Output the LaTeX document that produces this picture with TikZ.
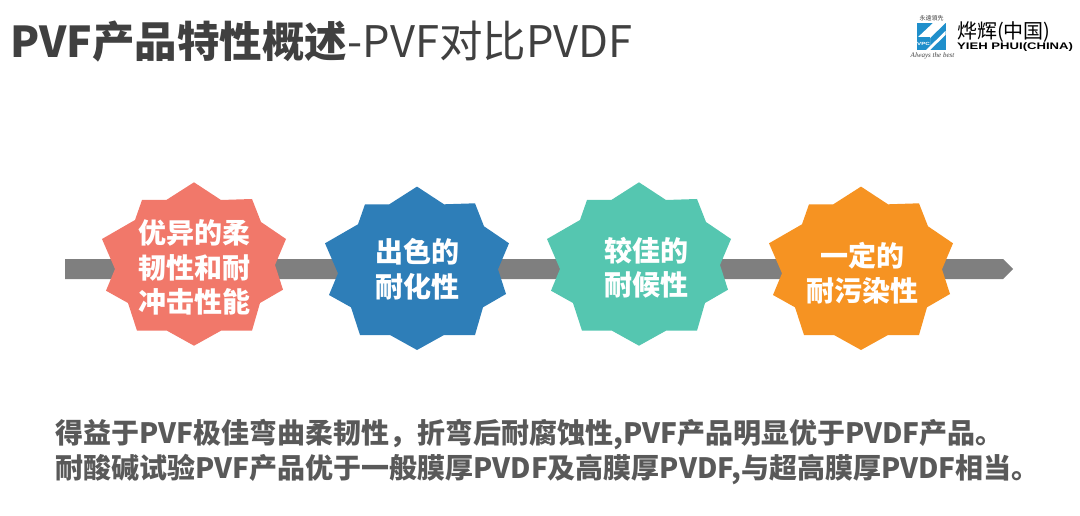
\documentclass[tikz,border=0pt]{standalone}
\usepackage{fontspec}
\setmainfont{Open Sans}
\newfontfamily\cjk{Noto Sans CJK SC}
\newfontfamily\logowide[FakeStretch=1.38]{Liberation Sans}
\newfontfamily\logoserif{Liberation Serif}
\usetikzlibrary{positioning}
\definecolor{barGray}{HTML}{7F7F7F}
\definecolor{titleGray}{HTML}{404040}
\definecolor{noteGray}{HTML}{595959}
\definecolor{burstRed}{HTML}{F1786A}
\definecolor{burstBlue}{HTML}{2E7EB8}
\definecolor{burstGreen}{HTML}{55C6B0}
\definecolor{burstOrange}{HTML}{F69322}
\definecolor{logoBlue}{HTML}{1F8FCB}
\tikzset{
  x=1pt,y=-1pt,
  burstText/.style={text=white,font=\cjk\bfseries\fontsize{28}{34.5}\selectfont,align=center,inner sep=0pt},
  noteText/.style={text=noteGray,font=\cjk\bfseries\fontsize{28}{34.5}\selectfont,align=left,anchor=west,inner sep=0pt}
}
% one burst, coordinates around its centre
\newcommand{\burst}[3]{%
  \fill[#3,shift={(#1,#2)}] (0,-81.7) -- (27,-64) -- (58,-65) -- (67,-42) -- (92,-25) -- (81,1) -- (89,25.7)
    -- (66,39) -- (58,66.7) -- (27,66.7) -- (0,81.7) -- (-27,66.7) -- (-57,66.7) -- (-66,39) -- (-88,26.7) -- (-79,5)
    -- (-92,-25) -- (-59,-44) -- (-52,-64) -- (-27.7,-64) -- cycle;}
\begin{document}
\begin{tikzpicture}
  \useasboundingbox (0,0) rectangle (1080,516);
  % Title
  \node[anchor=west,inner sep=0pt,text=titleGray] (title) at (10,42) {\cjk\fontsize{42.5}{48}\selectfont\textbf{PVF产品特性概述}\fontsize{43.5}{48}\selectfont-PVF对比PVDF};

  % Logo
  \fill[logoBlue] (917,23) rectangle (945.5,50);
  \fill[white] (917,38) -- (933,23) -- (945.5,23) -- (930,38) -- (930,50) -- (917,50) -- cycle;
  \fill[logoBlue] (917,37.5) rectangle (930,50);
  \fill[white] (930,50) -- (945.5,35) -- (945.5,31) -- (926,50) -- cycle;
  \node[font=\cjk\fontsize{6}{6}\selectfont,text=titleGray,inner sep=0pt] (logotop) at (931.5,18) {永遠領先};
  \node[font=\logoserif\itshape\fontsize{7}{7}\selectfont,text=titleGray,inner sep=0pt] (logobest) at (932.5,56) {Always the best};
  \node[font=\logowide\bfseries\fontsize{4.5}{5}\selectfont,text=white,inner sep=0pt] (logovpc) at (923.5,44) {VPC};
  \node[anchor=west,font=\cjk\fontsize{20}{20}\selectfont,text=black,inner sep=0pt] (logocn) at (957,32) {烨辉(中国)};
  \node[anchor=west,font=\logowide\bfseries\fontsize{9.5}{10}\selectfont,text=black,inner sep=0pt] (logoen) at (957,47) {YIEH PHUI(CHINA)};

  % Bar
  \fill[barGray] (65,259) -- (1003,259) -- (1013,269) -- (1003,279) -- (65,279) -- cycle;

  % Bursts
  \burst{194}{264}{burstRed}
  \burst{417}{268.3}{burstBlue}
  \burst{639}{264}{burstGreen}
  \burst{861}{268.3}{burstOrange}
  \node[burstText] (soft) at (194,267.5) {优异的柔\\韧性和耐\\冲击性能};
  \node[burstText] (chem) at (417.5,269) {出色的\\耐化性};
  \node[burstText] (weather) at (646,267.5) {较佳的\\耐候性};
  \node[burstText] (stain) at (862,273) {一定的\\耐污染性};

  % Notes
  \node[noteText] (notes) at (55,452) {得益于PVF极佳弯曲柔韧性，折弯后耐腐蚀性,PVF产品明显优于PVDF产品。\\耐酸碱试验PVF产品优于一般膜厚PVDF及高膜厚PVDF,与超高膜厚PVDF相当。};
\end{tikzpicture}
\end{document}
